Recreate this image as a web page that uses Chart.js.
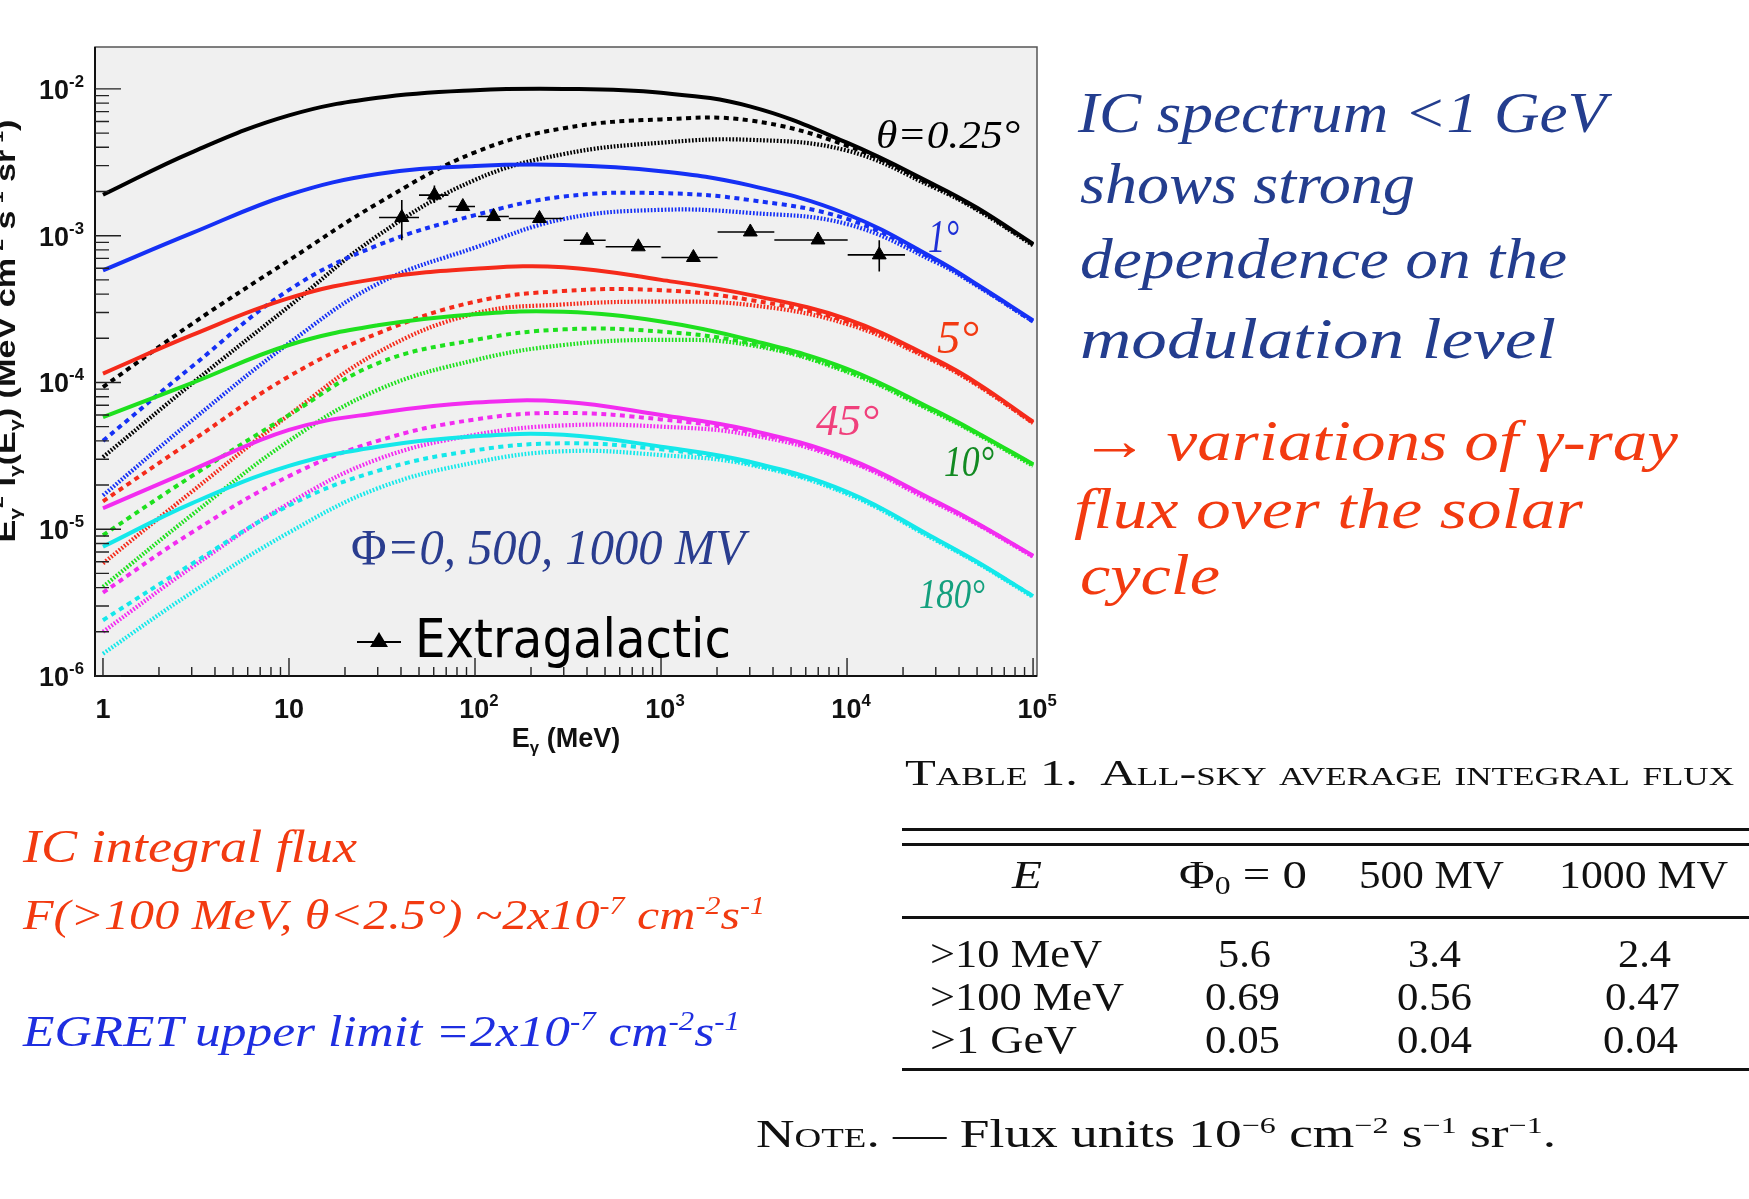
<!DOCTYPE html>
<html><head><meta charset="utf-8">
<script src="https://cdn.jsdelivr.net/npm/chart.js@4/dist/chart.umd.min.js"></script>
<style>
html,body{margin:0;padding:0;background:#fff;width:1749px;height:1199px;overflow:hidden;}
#c{position:absolute;left:0;top:0;}
.t{position:absolute;white-space:nowrap;transform-origin:0 0;line-height:1;left:0;top:0;}
.hand{font-family:"Liberation Serif",serif;font-style:italic;}
.tex{font-family:"Liberation Serif",serif;color:#111;font-size:39px;}
.sc{font-variant:small-caps;}
.rule{position:absolute;background:#111;height:3px;left:902px;width:847px;}
sup{font-size:0.6em;vertical-align:0.6em;line-height:0;}
sub{font-size:0.65em;vertical-align:-0.25em;line-height:0;}
.blue{color:#233d8e;}
.red{color:#f23a10;}
.bblue{color:#1e2ee0;}
</style></head><body>
<canvas id="c" width="1749" height="1199"></canvas>

<div class="t hand blue" style="font-size:58px" data-x="1078" data-b="132" data-w="528">IC spectrum &lt;1 GeV</div>
<div class="t hand blue" style="font-size:58px" data-x="1080" data-b="203" data-w="335">shows strong</div>
<div class="t hand blue" style="font-size:58px" data-x="1080" data-b="278" data-w="487">dependence on the</div>
<div class="t hand blue" style="font-size:58px" data-x="1080" data-b="358" data-w="476">modulation level</div>
<div class="t hand red" style="font-size:58px" data-x="1080" data-b="460" data-w="598">→ variations of γ-ray</div>
<div class="t hand red" style="font-size:58px" data-x="1074" data-b="528" data-w="509">flux over the solar</div>
<div class="t hand red" style="font-size:58px" data-x="1080" data-b="594" data-w="140">cycle</div>

<div class="t hand red" style="font-size:46px" data-x="23" data-b="862" data-w="334">IC integral flux</div>
<div class="t hand red" style="font-size:42px" data-x="23" data-b="929" data-w="742">F(&gt;100 MeV, θ&lt;2.5°) ~2x10<sup>-7</sup> cm<sup>-2</sup>s<sup>-1</sup></div>
<div class="t hand bblue" style="font-size:44px" data-x="23" data-b="1046" data-w="717">EGRET upper limit =2x10<sup>-7</sup> cm<sup>-2</sup>s<sup>-1</sup></div>

<div class="t tex sc" style="font-size:36px" data-x="905" data-b="785" data-w="829">Table 1.&nbsp; All-sky average integral flux</div>
<div class="rule" style="top:828px"></div>
<div class="rule" style="top:843px"></div>
<div class="t tex" style="font-style:italic" data-c="1027" data-b="888" data-w="30">E</div>
<div class="t tex" data-c="1243" data-b="888" data-w="128">Φ<sub>0</sub> = 0</div>
<div class="t tex" data-c="1431" data-b="888" data-w="145">500 MV</div>
<div class="t tex" data-c="1643" data-b="888" data-w="169">1000 MV</div>
<div class="rule" style="top:916px"></div>
<div class="t tex" data-x="930" data-b="967" data-w="172">&gt;10 MeV</div>
<div class="t tex" data-c="1244" data-b="967" data-w="53">5.6</div>
<div class="t tex" data-c="1434" data-b="967" data-w="53">3.4</div>
<div class="t tex" data-c="1644" data-b="967" data-w="53">2.4</div>
<div class="t tex" data-x="930" data-b="1010" data-w="194">&gt;100 MeV</div>
<div class="t tex" data-c="1242" data-b="1010" data-w="75">0.69</div>
<div class="t tex" data-c="1434" data-b="1010" data-w="75">0.56</div>
<div class="t tex" data-c="1642" data-b="1010" data-w="75">0.47</div>
<div class="t tex" data-x="930" data-b="1053" data-w="147">&gt;1 GeV</div>
<div class="t tex" data-c="1242" data-b="1053" data-w="75">0.05</div>
<div class="t tex" data-c="1434" data-b="1053" data-w="75">0.04</div>
<div class="t tex" data-c="1640" data-b="1053" data-w="75">0.04</div>
<div class="rule" style="top:1068px"></div>
<div class="t tex" data-x="756" data-b="1147" data-w="800"><span class="sc">Note.</span> — Flux units 10<sup>−6</sup> cm<sup>−2</sup> s<sup>−1</sup> sr<sup>−1</sup>.</div>

<script>
// ---------------- DATA ----------------
const energies = [1, 3, 10, 30, 100, 300, 1000, 3000, 10000, 30000, 50000, 100000];

// theta = 0.25 deg (black)
const black0    = [1.9e-3, 3.7e-3, 6.6e-3, 8.7e-3, 9.8e-3, 1.0e-2, 9.4e-3, 7.6e-3, 4.3e-3, 2.2e-3, 1.55e-3, 8.8e-4];
const black500  = [9.3e-5, 2.5e-4, 6.8e-4, 1.66e-3, 3.7e-3, 5.4e-3, 6.2e-3, 6.1e-3, 4.1e-3, 2.15e-3, 1.52e-3, 8.7e-4];
const black1000 = [3.1e-5, 9.8e-5, 3.3e-4, 1.0e-3, 2.4e-3, 3.6e-3, 4.3e-3, 4.5e-3, 3.8e-3, 2.1e-3, 1.5e-3, 8.6e-4];
// theta = 1 deg (blue)
const blue0     = [5.8e-4, 1.04e-3, 1.9e-3, 2.63e-3, 2.98e-3, 3.03e-3, 2.75e-3, 2.2e-3, 1.4e-3, 6.9e-4, 4.65e-4, 2.65e-4];
const blue500   = [4.0e-5, 1.28e-4, 4.27e-4, 8.6e-4, 1.38e-3, 1.85e-3, 1.95e-3, 1.75e-3, 1.3e-3, 6.8e-4, 4.6e-4, 2.6e-4];
const blue1000  = [1.7e-5, 5.5e-5, 1.85e-4, 4.7e-4, 8.3e-4, 1.3e-3, 1.5e-3, 1.43e-3, 1.2e-3, 6.6e-4, 4.55e-4, 2.6e-4];
// theta = 5 deg (red)
const red0      = [1.15e-4, 2.1e-4, 3.75e-4, 5.1e-4, 5.95e-4, 6.1e-4, 5.0e-4, 3.95e-4, 2.7e-4, 1.43e-4, 9.9e-5, 5.4e-5];
const red500    = [1.55e-5, 4.0e-5, 1.1e-4, 2.16e-4, 3.55e-4, 4.2e-4, 4.25e-4, 3.65e-4, 2.6e-4, 1.4e-4, 9.7e-5, 5.3e-5];
const red1000   = [5.85e-6, 1.8e-5, 6.0e-5, 1.6e-4, 2.95e-4, 3.4e-4, 3.55e-4, 3.37e-4, 2.5e-4, 1.38e-4, 9.6e-5, 5.3e-5];
// theta = 10 deg (green)
const green0    = [5.8e-5, 9.9e-5, 1.8e-4, 2.45e-4, 2.92e-4, 3.03e-4, 2.6e-4, 1.95e-4, 1.24e-4, 6.4e-5, 4.55e-5, 2.77e-5];
const green500  = [9.1e-6, 2.3e-5, 6.0e-5, 1.35e-4, 1.95e-4, 2.3e-4, 2.22e-4, 1.85e-4, 1.2e-4, 6.3e-5, 4.5e-5, 2.75e-5];
const green1000 = [4.05e-6, 1.25e-5, 4.0e-5, 8.9e-5, 1.42e-4, 1.8e-4, 1.95e-4, 1.8e-4, 1.18e-4, 6.2e-5, 4.45e-5, 2.7e-5];
// theta = 45 deg (magenta)
const mag0      = [1.39e-5, 2.53e-5, 4.75e-5, 6.2e-5, 7.3e-5, 7.4e-5, 6.0e-5, 4.75e-5, 3.05e-5, 1.55e-5, 1.1e-5, 6.6e-6];
const mag500    = [3.7e-6, 9.5e-6, 2.3e-5, 4.0e-5, 5.6e-5, 6.2e-5, 5.6e-5, 4.6e-5, 2.98e-5, 1.53e-5, 1.09e-5, 6.55e-6];
const mag1000   = [2.0e-6, 5.5e-6, 1.5e-5, 3.0e-5, 4.4e-5, 5.1e-5, 5.0e-5, 4.4e-5, 2.93e-5, 1.5e-5, 1.08e-5, 6.5e-6];
// theta = 180 deg (cyan)
const cyan0     = [7.6e-6, 1.5e-5, 2.7e-5, 3.65e-5, 4.3e-5, 4.4e-5, 3.65e-5, 2.88e-5, 1.8e-5, 8.6e-6, 6.0e-6, 3.5e-6];
const cyan500   = [2.4e-6, 5.8e-6, 1.45e-5, 2.5e-5, 3.45e-5, 3.85e-5, 3.5e-5, 2.8e-5, 1.77e-5, 8.5e-6, 5.95e-6, 3.5e-6];
const cyan1000  = [1.42e-6, 3.7e-6, 9.5e-6, 1.9e-5, 2.85e-5, 3.4e-5, 3.2e-5, 2.75e-5, 1.74e-5, 8.4e-6, 5.9e-6, 3.45e-6];

// extragalactic background points
const egE    = [40.4, 60.5, 86, 126, 222, 400, 755, 1493, 3020, 6980, 14900];
const egF    = [1.33e-3, 1.89e-3, 1.58e-3, 1.35e-3, 1.31e-3, 9.3e-4, 8.4e-4, 7.1e-4, 1.06e-3, 9.35e-4, 7.4e-4];
const egElo  = [30.5, 50, 72, 104, 152, 300, 504, 1005, 2014, 4065, 10080];
const egEhi  = [50, 72, 100, 152, 297, 504, 995, 2014, 4065, 10080, 20500];
const egFlo  = [9.3e-4, 1.67e-3, 1.5e-3, 1.28e-3, 1.25e-3, 8.9e-4, 8.0e-4, 6.8e-4, 1.0e-3, 8.9e-4, 5.7e-4];
const egFhi  = [1.75e-3, 2.2e-3, 1.66e-3, 1.42e-3, 1.37e-3, 9.7e-4, 8.8e-4, 7.4e-4, 1.11e-3, 9.8e-4, 9.3e-4];

const xTickExp = [0, 1, 2, 3, 4, 5];
const yTickExp = [-6, -5, -4, -3, -2];

// ---------------- STYLE ----------------
const COL = {black:'#000000', blue:'#1530f5', red:'#f52a1a', green:'#1ee01e', mag:'#f22cf0', cyan:'#14e8ea'};
const groups = [
  [black0, black500, black1000, COL.black],
  [blue0, blue500, blue1000, COL.blue],
  [red0, red500, red1000, COL.red],
  [green0, green500, green1000, COL.green],
  [mag0, mag500, mag1000, COL.mag],
  [cyan0, cyan500, cyan1000, COL.cyan]
];
const pts = arr => energies.map((e, i) => ({x: e, y: arr[i]}));
const lineDs = (arr, color, kind) => ({
  type: 'line', data: pts(arr), borderColor: color, backgroundColor: color,
  borderWidth: kind === 'dot' ? 4.2 : 4,
  borderDash: kind === 'solid' ? [] : (kind === 'dash' ? [5, 4.5] : [1.7, 1.7]),
  borderCapStyle: 'butt', tension: 0.4,
  pointRadius: 0, fill: false
});
const datasets = [{
  type: 'scatter', data: egE.map((e, i) => ({x: e, y: egF[i]})),
  pointStyle: 'triangle', pointRadius: 8, backgroundColor: '#000', borderColor: '#000', borderWidth: 1, showLine: false
}];
groups.forEach(g => datasets.push(lineDs(g[0], g[3], 'solid')));
groups.forEach(g => datasets.push(lineDs(g[1], g[3], 'dash')));
groups.forEach(g => datasets.push(lineDs(g[2], g[3], 'dot')));

// ---------------- TEXT HELPERS ----------------
function fontOf(seg, size, def) { return (seg[2] || def)(size); }
function segsWidth(ctx, segs, size, def) {
  let w = 0;
  for (const s of segs) { ctx.font = fontOf(s, s[1] ? size * 0.62 : size, def); w += ctx.measureText(s[0]).width; }
  return w;
}
function drawSegs(ctx, segs, x, y, size, def, opts = {}) {
  const w = segsWidth(ctx, segs, size, def);
  const sc = opts.width ? opts.width / w : 1;
  const W = w * sc;
  const x0 = opts.align === 'center' ? x - W / 2 : opts.align === 'right' ? x - W : x;
  ctx.save();
  ctx.translate(x0, y); ctx.scale(sc, 1);
  ctx.textAlign = 'left'; ctx.textBaseline = 'alphabetic';
  let cx = 0;
  for (const s of segs) {
    const sz = s[1] ? size * 0.62 : size;
    ctx.font = fontOf(s, sz, def);
    const dy = s[1] === 'sup' ? -size * 0.45 : s[1] === 'sub' ? size * 0.22 : 0;
    ctx.fillText(s[0], cx, dy);
    cx += ctx.measureText(s[0]).width;
  }
  ctx.restore();
}
const sansB = s => `bold ${s}px "Liberation Sans", Arial, sans-serif`;
const serifI = s => `italic ${s}px "Liberation Serif", serif`;
const serifN = s => `${s}px "Liberation Serif", serif`;
const comic = s => `${s}px "DejaVu Sans", sans-serif`;

// ---------------- PLUGIN ----------------
const rootPlugin = {
  id: 'rootStyle',
  beforeDatasetsDraw(chart) {
    const {ctx, chartArea: a} = chart;
    ctx.save();
    ctx.fillStyle = '#f0f0f0';
    ctx.fillRect(a.left, a.top, a.right - a.left, a.bottom - a.top);
    ctx.restore();
  },
  afterDatasetsDraw(chart) {
    const {ctx, chartArea: a} = chart;
    const xs = chart.scales.x, ys = chart.scales.y;
    ctx.save();
    // error bars
    ctx.strokeStyle = '#000'; ctx.lineWidth = 1.6;
    egE.forEach((e, i) => {
      const px = xs.getPixelForValue(e), py = ys.getPixelForValue(egF[i]);
      ctx.beginPath();
      ctx.moveTo(xs.getPixelForValue(egElo[i]), py); ctx.lineTo(xs.getPixelForValue(egEhi[i]), py);
      ctx.moveTo(px, ys.getPixelForValue(egFlo[i])); ctx.lineTo(px, ys.getPixelForValue(egFhi[i]));
      ctx.stroke();
    });
    // frame
    ctx.strokeStyle = '#555'; ctx.lineWidth = 1.5;
    ctx.strokeRect(a.left, a.top, a.right - a.left, a.bottom - a.top);
    ctx.strokeStyle = '#111'; ctx.lineWidth = 2;
    ctx.beginPath();
    ctx.moveTo(a.left, a.top); ctx.lineTo(a.left, a.bottom); ctx.lineTo(a.right, a.bottom);
    ctx.stroke();
    // ticks
    ctx.lineWidth = 1.4; ctx.strokeStyle = '#222';
    ctx.beginPath();
    for (let d = 0; d <= 5; d++) for (let k = 1; k <= 9; k++) {
      const v = k * Math.pow(10, d);
      if (v < xs.min || v > xs.max) continue;
      const px = xs.getPixelForValue(v);
      ctx.moveTo(px, a.bottom); ctx.lineTo(px, a.bottom - (k === 1 ? 18 : 9));
    }
    for (let d = -6; d <= -2; d++) for (let k = 1; k <= 9; k++) {
      const v = k * Math.pow(10, d);
      if (v < ys.min || v > ys.max) continue;
      const py = ys.getPixelForValue(v);
      ctx.moveTo(a.left, py); ctx.lineTo(a.left + (k === 1 ? 26 : 14), py);
    }
    ctx.stroke();
    // tick labels
    ctx.fillStyle = '#111';
    xTickExp.forEach(p => {
      const px = xs.getPixelForValue(Math.pow(10, p));
      const segs = p === 0 ? [['1', '']] : p === 1 ? [['10', '']] : [['10', ''], [String(p), 'sup']];
      drawSegs(ctx, segs, px + (p > 1 ? 4 : 0), 718, 27, sansB, {align: 'center'});
    });
    yTickExp.forEach(p => {
      const py = ys.getPixelForValue(Math.pow(10, p));
      drawSegs(ctx, [['10', ''], [String(p), 'sup']], 84, py + 10, 27, sansB, {align: 'right'});
    });
    // axis titles
    drawSegs(ctx, [['E', ''], ['γ', 'sub'], [' (MeV)', '']], (a.left + a.right) / 2, 747, 27, sansB, {align: 'center'});
    ctx.save();
    ctx.translate(15, 331); ctx.rotate(-Math.PI / 2);
    drawSegs(ctx, [['E', ''], ['γ', 'sub'], ['2', 'sup'], [' I', ''], ['γ', 'sub'], ['(E', ''], ['γ', 'sub'],
      [') (MeV cm', ''], ['-2', 'sup'], [' s', ''], ['-1', 'sup'], [' sr', ''], ['-1', 'sup'], [')', '']],
      0, 0, 27, sansB, {align: 'center', width: 423});
    ctx.restore();
    // curve annotations
    ctx.fillStyle = '#000';
    drawSegs(ctx, [['θ=0.25°', '']], 876, 148, 40, serifI, {width: 144});
    ctx.fillStyle = '#1d2fd6'; drawSegs(ctx, [['1°', '']], 928, 252, 46, serifI, {width: 31});
    ctx.fillStyle = '#f23a12'; drawSegs(ctx, [['5°', '']], 937, 353, 46, serifI, {width: 42});
    ctx.fillStyle = '#f0407c'; drawSegs(ctx, [['45°', '']], 816, 435, 44, serifI, {width: 63});
    ctx.fillStyle = '#128a22'; drawSegs(ctx, [['10°', '']], 944, 476, 44, serifI, {width: 50});
    ctx.fillStyle = '#14a07e'; drawSegs(ctx, [['180°', '']], 919, 608, 42, serifI, {width: 66});
    ctx.fillStyle = '#2a3d8f';
    drawSegs(ctx, [['Φ', '', serifN], ['=0, 500, 1000 MV', '']], 351, 564, 50, serifI, {width: 394});
    // legend
    ctx.strokeStyle = '#000'; ctx.lineWidth = 2.2;
    ctx.beginPath(); ctx.moveTo(357, 642); ctx.lineTo(401, 642); ctx.stroke();
    ctx.fillStyle = '#000';
    ctx.beginPath(); ctx.moveTo(379, 632); ctx.lineTo(388, 647); ctx.lineTo(370, 647); ctx.closePath(); ctx.fill();
    drawSegs(ctx, [['Extragalactic', '']], 415, 657, 54, comic, {width: 316});
    ctx.restore();
  }
};

new Chart(document.getElementById('c'), {
  type: 'line',
  data: {datasets},
  options: {
    responsive: false, animation: false, devicePixelRatio: 1,
    layout: {padding: {left: 95, top: 47, right: 712, bottom: 523}},
    plugins: {legend: {display: false}, tooltip: {enabled: false}},
    scales: {
      x: {type: 'logarithmic', min: 0.906, max: 1.05e5, display: false},
      y: {type: 'logarithmic', min: 1e-6, max: 0.0193, display: false}
    }
  },
  plugins: [rootPlugin]
});

// ---------------- HTML text placement ----------------
document.querySelectorAll('.t').forEach(el => {
  const m = document.createElement('span');
  m.style.cssText = 'display:inline-block;width:0;height:0;vertical-align:baseline;';
  el.appendChild(m);
  const r = el.getBoundingClientRect();
  const base = m.getBoundingClientRect().bottom - r.top;
  const w = r.width;
  const tw = el.dataset.w ? parseFloat(el.dataset.w) : w;
  const s = tw / w;
  const left = el.dataset.c ? parseFloat(el.dataset.c) - tw / 2 : parseFloat(el.dataset.x);
  el.style.left = left + 'px';
  el.style.top = (parseFloat(el.dataset.b) - base) + 'px';
  el.style.transform = 'scaleX(' + s + ')';
});
</script>
</body></html>
